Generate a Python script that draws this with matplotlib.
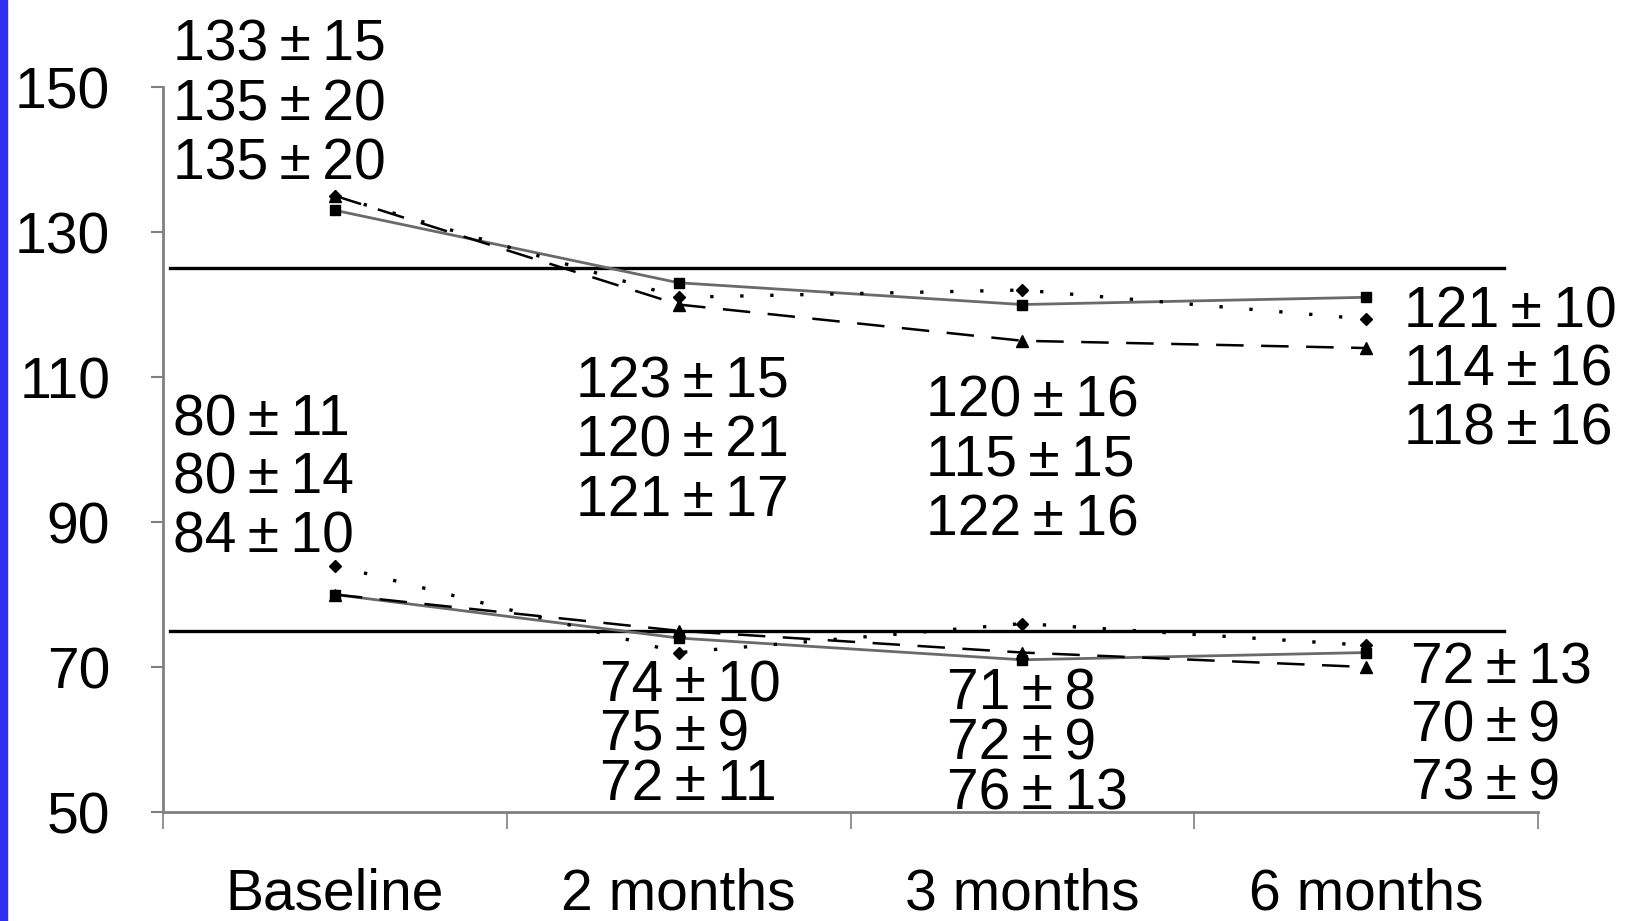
import matplotlib.pyplot as plt
from matplotlib.patches import Rectangle

plt.rcParams["font.family"] = ["Liberation Sans", "DejaVu Sans"]

CATEGORIES = ["Baseline", "2 months", "3 months", "6 months"]

# systolic / diastolic means and SDs, three groups each
SYS_SOLID = [133, 123, 120, 121]
SYS_DASHED = [135, 120, 115, 114]
SYS_DOTTED = [135, 121, 122, 118]
SYS_SOLID_SD = [15, 15, 16, 10]
SYS_DASHED_SD = [20, 21, 15, 16]
SYS_DOTTED_SD = [20, 17, 16, 16]

DIA_SOLID = [80, 74, 71, 72]
DIA_DASHED = [80, 75, 72, 70]
DIA_DOTTED = [84, 72, 76, 73]
DIA_SOLID_SD = [11, 10, 8, 13]
DIA_DASHED_SD = [14, 9, 9, 9]
DIA_DOTTED_SD = [10, 11, 13, 9]

TARGETS = [125, 75]

FS = 41
PM = "\u2009\u00b1\u2009"

# label layout: (x, first baseline, line step) per category
SYS_LAYOUT = [(-0.47, 153.6, 8.2), (0.70, 107.2, 8.2), (1.72, 104.6, 8.2), (3.11, 116.9, 8.1)]
DIA_LAYOUT = [(-0.47, 102.0, 8.1), (0.77, 65.3, 6.8), (1.78, 64.2, 6.9), (3.13, 67.7, 8.0)]

STYLES = [
    dict(color="#6a6a6a", ls="-", marker="s", ms=7, lw=2.0),
    dict(color="black", ls=(0, (11, 7)), marker="^", ms=8, lw=1.8),
    dict(color="black", ls=(0, (1, 8)), marker="D", ms=6, lw=2.4),
]


def add_labels(ax, layout, means, sds):
    for i, (x, y0, dy) in enumerate(layout):
        for k in range(3):
            ax.text(x, y0 - k * dy, f"{means[k][i]}{PM}{sds[k][i]}",
                    fontsize=FS, ha="left", va="baseline", clip_on=False)


def main():
    fig = plt.figure(figsize=(16.3, 9.21), dpi=100)
    ax = fig.add_axes([0.1, 0.1183, 0.8436, 0.7872])

    x = list(range(len(CATEGORIES)))

    for y in TARGETS:
        ax.plot([-0.48, 3.40], [y, y], color="black", lw=2.4, zorder=1)

    sys_means = [SYS_SOLID, SYS_DASHED, SYS_DOTTED]
    dia_means = [DIA_SOLID, DIA_DASHED, DIA_DOTTED]
    for means in (sys_means, dia_means):
        for vals, st in zip(means, STYLES):
            ax.plot(x, vals, color=st["color"], ls=st["ls"], lw=st["lw"],
                    marker=st["marker"], ms=st["ms"], mfc="black",
                    mec="black", zorder=3)

    add_labels(ax, SYS_LAYOUT, sys_means, [SYS_SOLID_SD, SYS_DASHED_SD, SYS_DOTTED_SD])
    add_labels(ax, DIA_LAYOUT, dia_means, [DIA_SOLID_SD, DIA_DASHED_SD, DIA_DOTTED_SD])

    ax.set_xlim(-0.5, 3.5)
    ax.set_ylim(50, 150)
    ax.set_yticks([50, 70, 90, 110, 130, 150])
    ax.set_xticks(x)
    ax.set_xticklabels(CATEGORIES)
    ax.set_xticks([-0.5, 0.5, 1.5, 2.5, 3.5], minor=True)

    for side in ("top", "right"):
        ax.spines[side].set_visible(False)
    for side in ("left", "bottom"):
        ax.spines[side].set_color("#808080")
        ax.spines[side].set_linewidth(2)

    ax.tick_params(axis="y", length=9, width=1.5, color="#808080",
                   labelsize=FS, pad=29)
    ax.tick_params(axis="x", which="major", length=0, labelsize=FS, pad=40)
    ax.tick_params(axis="x", which="minor", length=12, width=1.2,
                   color="#808080")

    fig.patches.append(Rectangle((0, 0), 0.0045, 1, transform=fig.transFigure,
                                 color="#3030f0", zorder=10))

    fig.savefig("out.png", dpi=100)


if __name__ == "__main__":
    main()
